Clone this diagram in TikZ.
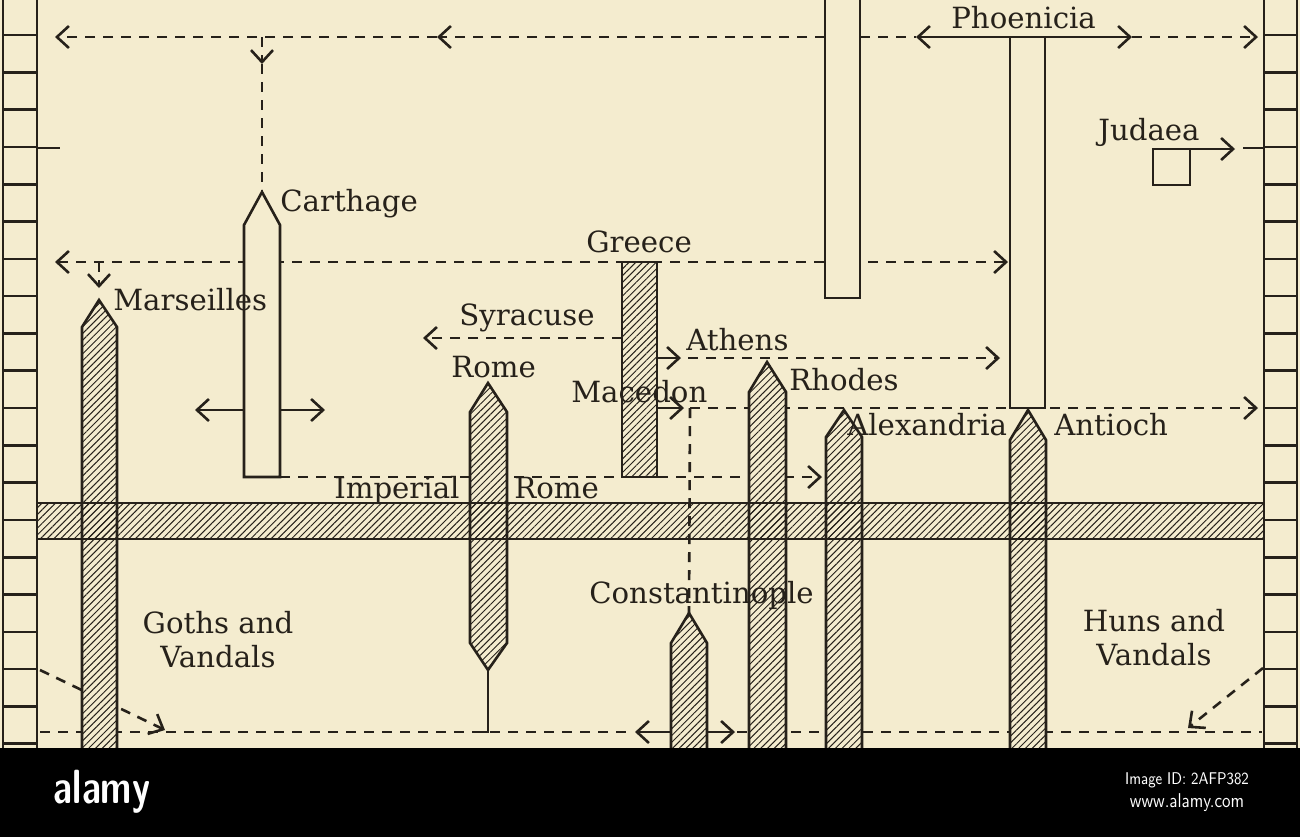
\documentclass[tikz,border=0pt]{standalone}
\usepackage{fontspec}
\setmainfont{DejaVu Serif}
\usetikzlibrary{arrows.meta,patterns.meta}
\definecolor{carta}{RGB}{244,236,207}
\definecolor{inchiostro}{RGB}{38,33,26}

\begin{document}
\begin{tikzpicture}[
                x=0.5pt, y=-0.5pt,
                line width=1.3pt,
                color=inchiostro,
                >={Straight Barb[length=6pt,width=11pt]},
                font=\fontsize{14.6}{17}\selectfont,
                % Stile per le linee tratteggiate (migrazioni)
                tratteggio/.style={dash pattern=on 5pt off 4pt},
                flusso/.style={tratteggio, ->},
                % Stile per le colonne rigate e vuote
                rigata/.style={
                    draw,
                    preaction={fill=carta},
                    pattern={Lines[angle=45,distance=2.4pt,line width=0.5pt]},
                    pattern color=inchiostro
                },
                vuota/.style={draw, fill=carta},
                etichetta/.style={anchor=base west, inner sep=0pt}
            ]

                % ========================================================
                % 1. Sfondo e scale laterali
                % ========================================================
                \useasboundingbox (0,0) rectangle (1300,837);
                \fill[carta] (0,0) rectangle (1300,748);

                \draw (3,-5) -- (3,748) (37,-5) -- (37,748);
                \draw (1264,-5) -- (1264,748) (1297,-5) -- (1297,748);
                \foreach \k [evaluate=\k as \y using 35+37.3*\k] in {0,...,19} {
                    \draw (3,\y) -- (37,\y);
                    \draw (1264,\y) -- (1297,\y);
                }
                \draw (37,148) -- (60,148);
                \draw (1243,148) -- (1264,148);

                % Punte delle colonne
                \coordinate (carthage_tip) at (262,192);
                \coordinate (marseilles_tip) at (99,300);
                \coordinate (const_tip) at (689,613);

                % ========================================================
                % 2. Linee tratteggiate (sotto le colonne)
                % ========================================================
                \draw[flusso] (825,37) -- (437,37);
                \draw[flusso] (437,37) -- (55,37);
                \draw[flusso] (262,37) -- (262,64);
                \draw[tratteggio] (262,64) -- (carthage_tip);
                \draw[tratteggio] (860,37) -- (916,37);
                \draw[<->] (916,37) -- (1132,37);
                \draw[flusso] (1132,37) -- (1258,37);

                \draw[tratteggio,<->] (55,262) -- (1008,262);
                \draw[flusso] (99,262) -- (99,288);

                \draw[flusso] (622,338) -- (423,338);
                \draw[->] (657,358) -- (681,358);
                \draw[flusso] (688,358) -- (1000,358);
                \draw[->] (657,408) -- (684,408);
                \draw[flusso] (690,408) -- (1258,408);
                \draw[tratteggio] (690,408) -- (const_tip);
                \draw[flusso] (280,477) -- (822,477);

                % Linea in basso e invasioni
                \draw[tratteggio] (40,732) -- (633,732);
                \draw[tratteggio] (737,732) -- (1262,732);
                \draw[->] (671,732) -- (635,732);
                \draw[->] (707,732) -- (735,732);
                \draw[flusso] (40,670) -- (165,730);
                \draw[flusso] (1263,668) -- (1188,728);

                % Frecce di Cartagine e della Giudea
                \draw[->] (244,410) -- (195,410);
                \draw[->] (280,410) -- (325,410);
                \draw[->] (1190,149) -- (1235,149);

                % ========================================================
                % 3. Colonne
                % ========================================================
                \draw[vuota] (825,-5) rectangle (860,298);
                \draw[vuota] (1010,37) rectangle (1045,408);
                \draw[vuota] (1153,149) rectangle (1190,185);
                \draw[vuota] (244,477) -- (244,225) -- (carthage_tip) -- (280,225) -- (280,477) -- cycle;

                \draw[rigata] (622,262) rectangle (657,477);
                \draw[rigata] (82,748) -- (82,327) -- (marseilles_tip) -- (117,327) -- (117,748);
                \draw[rigata] (470,412) -- (488,383) -- (507,412) -- (507,643) -- (488,670) -- (470,643) -- cycle;
                \draw (488,670) -- (488,732) -- (474,732);
                \draw[rigata] (749,748) -- (749,392) -- (767,362) -- (786,392) -- (786,748);
                \draw[rigata] (826,748) -- (826,437) -- (844,410) -- (862,437) -- (862,748);
                \draw[rigata] (1010,748) -- (1010,440) -- (1028,410) -- (1046,440) -- (1046,748);
                \draw[rigata] (671,748) -- (671,643) -- (const_tip) -- (707,643) -- (707,748);

                % Fascia orizzontale (Impero)
                \draw[pattern={Lines[angle=45,distance=2.4pt,line width=0.5pt]}, pattern color=inchiostro]
                    (37,503) rectangle (1264,539);

                % ========================================================
                % 4. Etichette
                % ========================================================
                \node[etichetta] (lab_phoenicia) at (950,28) {Phoenicia};
                \node[etichetta] (lab_judaea) at (1097,140) {Judaea};
                \node[etichetta] (lab_carthage) at (279,211) {Carthage};
                \node[etichetta] (lab_greece) at (585,252) {Greece};
                \node[etichetta] (lab_marseilles) at (112,310) {Marseilles};
                \node[etichetta] (lab_syracuse) at (458,325) {Syracuse};
                \node[etichetta] (lab_athens) at (685,350) {Athens};
                \node[etichetta] (lab_rome) at (450,377) {Rome};
                \node[etichetta] (lab_rhodes) at (788,390) {Rhodes};
                \node[etichetta] (lab_macedon) at (570,402) {Macedon};
                \node[etichetta] (lab_alexandria) at (846,435) {Alexandria};
                \node[etichetta] (lab_antioch) at (1053,435) {Antioch};
                \node[etichetta] (lab_imperial) at (333,498) {Imperial};
                \node[etichetta] (lab_improme) at (513,498) {Rome};
                \node[etichetta] (lab_const) at (588,603) {Constantinople};
                \node[align=center, inner sep=0pt, anchor=base] (lab_goths) at (218,667)
                    {Goths and\\Vandals};
                \node[align=center, inner sep=0pt, anchor=base] (lab_huns) at (1154,665)
                    {Huns and\\Vandals};

                % ========================================================
                % 5. Fascia inferiore
                % ========================================================
                \fill[black] (0,748) rectangle (1300,837);
                \node[white, font=\sffamily\bfseries\fontsize{24}{24}\selectfont, xscale=0.75]
                    (logo) at (102,792) {alamy};
                \node[white, font=\sffamily\fontsize{8.5}{9}\selectfont, xscale=0.85]
                    (image_id) at (1187,780) {Image ID: 2AFP382};
                \node[white, font=\sffamily\fontsize{10}{11}\selectfont, xscale=0.85]
                    (sito) at (1187,803) {www.alamy.com};

            \end{tikzpicture}
\end{document}
